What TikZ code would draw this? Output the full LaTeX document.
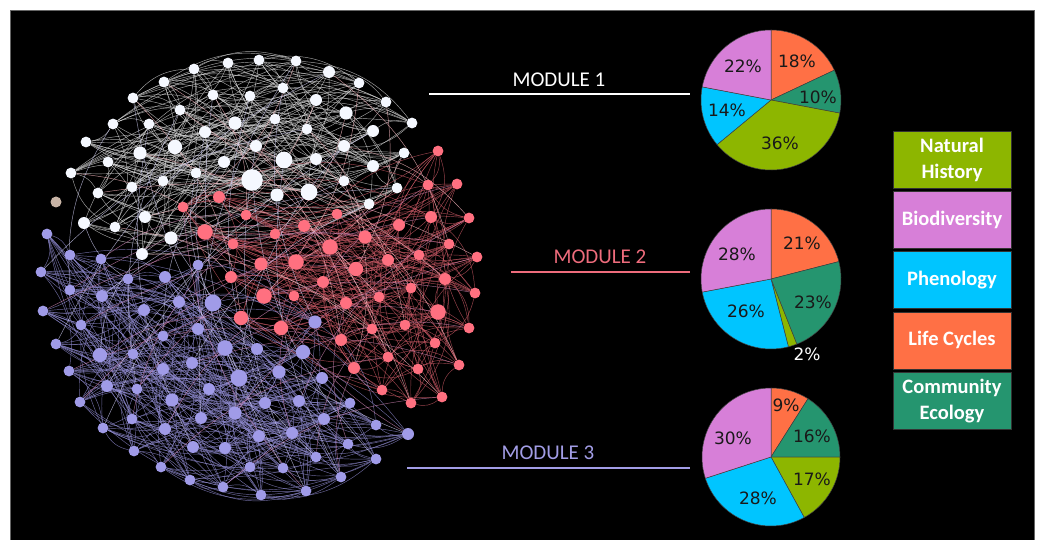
\documentclass[tikz,border=0pt]{standalone}
\usepackage{fontspec}
\setmainfont{Carlito}
\newfontfamily\piefont{DejaVu Sans}
\usetikzlibrary{positioning,backgrounds}
\definecolor{nathist}{HTML}{8DB600}
\definecolor{biodiv}{HTML}{D77FD8}
\definecolor{phenol}{HTML}{00C5FF}
\definecolor{lifecyc}{HTML}{FF7045}
\definecolor{commeco}{HTML}{25956F}
\definecolor{modred}{HTML}{EE6C7C}
\definecolor{modblue}{HTML}{A29DE6}
\definecolor{nodewhite}{HTML}{F5F8FF}
\definecolor{nodered}{HTML}{FF7080}
\definecolor{nodeblue}{HTML}{A09BE8}
\definecolor{nodetan}{HTML}{C8B4A6}
\tikzset{
  netnode/.style={circle,inner sep=0pt,minimum size=11pt},
  wnode/.style={netnode,fill=nodewhite},
  rnode/.style={netnode,fill=nodered},
  pnode/.style={netnode,fill=nodeblue},
  link/.style={line width=.45pt,opacity=.75},
  wlink/.style={link,draw=white!85!black},
  rlink/.style={link,draw=nodered!80!black},
  plink/.style={link,draw=nodeblue!90!black},
  wrlink/.style={link,draw=nodered!45!white},
  rplink/.style={link,draw=nodered!50!nodeblue},
  pwlink/.style={link,draw=nodeblue!50!white},
  modlab/.style={font=\fontsize{21}{24}\selectfont},
  modline/.style={line width=2.5pt},
  pieedge/.style={draw=black!75,line width=.5pt},
  pielab/.style={font=\piefont\fontsize{17}{20}\selectfont,text=black!90},
  legbox/.style={draw=black!80,line width=.8pt,minimum width=118pt,
    minimum height=57pt,align=center,text=white,
    font=\fontsize{20.5}{26}\selectfont\bfseries}
}
\newcommand*{\drawslice}[5]
  {\filldraw[pieedge,fill=#5] (#1) -- +(#2:#4) arc[start angle=#2,end angle=#3,radius=#4] -- cycle;}

\begin{document}
\begin{tikzpicture}[x=1pt,y=-1pt]
\useasboundingbox (0,0) rectangle (1042,540);

% Network nodes: module 1 (white)
\foreach [count=\i] \x/\y/\s in {194/69/9, 228/63/9, 259/60/9, 296/61/9,
  329/72/10, 359/83/9, 164/82/9, 213/95/9, 250/96/9, 283/88/9, 316/100/10,
  386/102/9, 133/98/9, 180/110/9, 346/113/11, 412/123/9, 113/124/9,
  149/124/9, 205/132/10, 235/123/11, 275/119/9, 307/129/9, 373/131/10,
  86/142/9, 175/147/12, 140/153/11, 256/146/10, 344/146/10, 404/153/9,
  108/162/9, 224/162/10, 284/160/14, 316/159/10, 373/166/10, 71/173/9,
  196/173/9, 252/180/18, 163/181/9, 132/187/9, 344/181/9, 397/188/9,
  98/193/9, 277/195/11, 309/192/14, 369/204/9, 84/223/10, 115/227/9,
  145/217/10, 171/238/11, 142/254/10}
  \node[wnode,minimum size=1.2*\s pt] (w\i) at (\x,\y) {};

% Network nodes: module 2 (red)
\foreach [count=\i] \x/\y/\s in {438/151/9, 428/185/9, 457/184/9,
  219/197/10, 183/207/9, 246/215/9, 337/214/9, 431/217/10, 469/218/9,
  205/232/13, 275/234/9, 304/226/10, 399/225/10, 233/244/9, 330/247/13,
  365/237/11, 449/244/9, 419/255/9, 477/257/9, 261/264/11, 296/262/13,
  356/269/12, 388/260/10, 231/277/10, 323/282/10, 445/279/10, 411/288/9,
  475/293/9, 264/296/13, 294/296/9, 346/303/10, 379/297/9, 438/312/13,
  241/318/12, 281/328/12, 372/329/9, 405/325/9, 469/328/9, 341/340/10,
  435/343/9, 388/357/9, 354/368/10, 418/369/9, 459/365/9, 382/390/9,
  411/403/9, 442/397/9}
  \node[rnode,minimum size=1.2*\s pt] (r\i) at (\x,\y) {};

% Network nodes: module 3 (blue)
\foreach [count=\i] \x/\y/\s in {47/234/9, 70/255/9, 101/259/9, 41/272/9,
  128/279/9, 165/277/10, 198/265/9, 70/290/9, 102/296/10, 43/311/9,
  144/310/10, 179/302/10, 213/303/14, 315/322/11, 81/325/9, 198/329/10,
  163/336/9, 56/344/9, 225/348/13, 257/349/10, 303/352/12, 100/355/12,
  133/354/9, 69/371/9, 163/369/10, 192/363/10, 239/378/14, 279/372/11,
  322/378/10, 107/386/10, 137/389/9, 209/389/10, 80/402/9, 172/400/11,
  265/403/10, 299/401/10, 350/403/9, 132/419/9, 201/418/10, 235/413/11,
  324/419/10, 376/425/9, 408/434/10, 103/428/9, 165/429/10, 259/436/10,
  292/433/10, 193/447/10, 225/448/10, 348/444/9, 134/451/9, 316/457/9,
  376/459/9, 161/467/9, 250/467/9, 283/468/9, 341/477/9, 190/480/9,
  223/487/9, 261/495/9, 306/491/9}
  \node[pnode,minimum size=1.2*\s pt] (p\i) at (\x,\y) {};

% Loose node
\node[netnode,fill=nodetan] (t1) at (56,202) {};

\begin{pgfonlayer}{background}
\fill[white] (0,0) rectangle (1042,540);
\filldraw[black,draw=black!60] (10,10) rectangle (1034,541);

% Links inside modules
\foreach \i in {1,...,50} \foreach \k in {1,3,7,12,20} {
  \pgfmathtruncatemacro\j{mod(\i+\k-1,50)+1}
  \pgfmathtruncatemacro\b{ifthenelse(mod(\i+\k,2)==0,24,-24)}
  \draw[wlink] (w\i) to[bend left=\b] (w\j);
}
\foreach \i in {1,...,47} \foreach \k in {1,3,7,12,20} {
  \pgfmathtruncatemacro\j{mod(\i+\k-1,47)+1}
  \pgfmathtruncatemacro\b{ifthenelse(mod(\i+\k,2)==0,26,-26)}
  \draw[rlink] (r\i) to[bend left=\b] (r\j);
}
\foreach \i in {1,...,61} \foreach \k in {1,3,7,12,20,28} {
  \pgfmathtruncatemacro\j{mod(\i+\k-1,61)+1}
  \pgfmathtruncatemacro\b{ifthenelse(mod(\i+\k,2)==0,24,-24)}
  \draw[plink] (p\i) to[bend left=\b] (p\j);
}

% Links between modules
\foreach \i in {1,...,30} {
  \pgfmathtruncatemacro\a{mod(\i*7,50)+1}
  \pgfmathtruncatemacro\c{mod(\i*5,47)+1}
  \draw[wrlink] (w\a) to[bend left=18] (r\c);
}
\foreach \i in {1,...,30} {
  \pgfmathtruncatemacro\a{mod(\i*11,47)+1}
  \pgfmathtruncatemacro\c{mod(\i*7,61)+1}
  \draw[rplink] (r\a) to[bend right=18] (p\c);
}
\foreach \i in {1,...,24} {
  \pgfmathtruncatemacro\a{mod(\i*13,61)+1}
  \pgfmathtruncatemacro\c{mod(\i*9,50)+1}
  \draw[pwlink] (p\a) to[bend left=18] (w\c);
}
\end{pgfonlayer}

% Module labels and rules
\node[modlab,text=white] (mod1) at (559,80) {MODULE 1};
\coordinate (m1a) at (429,94);
\coordinate (m1b) at (690,94);
\draw[modline,white] (m1a) -- (m1b);

\node[modlab,text=modred] (mod2) at (600,257) {MODULE 2};
\coordinate (m2a) at (511,272);
\coordinate (m2b) at (690,272);
\draw[modline,modred] (m2a) -- (m2b);

\node[modlab,text=modblue] (mod3) at (548,453) {MODULE 3};
\coordinate (m3a) at (407,468);
\coordinate (m3b) at (690,468);
\draw[modline,modblue] (m3a) -- (m3b);

% Pie charts
\coordinate (pie1) at (771,100);
\drawslice{pie1}{90}{25.2}{70pt}{lifecyc}
\drawslice{pie1}{25.2}{-10.8}{70pt}{commeco}
\drawslice{pie1}{-10.8}{-140.4}{70pt}{nathist}
\drawslice{pie1}{-140.4}{-190.8}{70pt}{phenol}
\drawslice{pie1}{-190.8}{-270}{70pt}{biodiv}
\node[pielab] (p1lc) at (797,61) {18\%};
\node[pielab] (p1ce) at (818,97) {10\%};
\node[pielab] (p1nh) at (780,143) {36\%};
\node[pielab] (p1ph) at (727,110) {14\%};
\node[pielab] (p1bd) at (743,66) {22\%};

\coordinate (pie2) at (771,279);
\drawslice{pie2}{90}{14.4}{70pt}{lifecyc}
\drawslice{pie2}{14.4}{-68.4}{70pt}{commeco}
\drawslice{pie2}{-68.4}{-75.6}{70pt}{nathist}
\drawslice{pie2}{-75.6}{-169.2}{70pt}{phenol}
\drawslice{pie2}{-169.2}{-270}{70pt}{biodiv}
\node[pielab] (p2lc) at (802,243) {21\%};
\node[pielab] (p2ce) at (813,302) {23\%};
\node[pielab] (p2ph) at (746,311) {26\%};
\node[pielab] (p2bd) at (737,254) {28\%};
\node[pielab,text=white] (p2nh) at (807,354) {2\%};

\coordinate (pie3) at (771,457);
\drawslice{pie3}{90}{57.6}{69pt}{lifecyc}
\drawslice{pie3}{57.6}{0}{69pt}{commeco}
\drawslice{pie3}{0}{-61.2}{69pt}{nathist}
\drawslice{pie3}{-61.2}{-162}{69pt}{phenol}
\drawslice{pie3}{-162}{-270}{69pt}{biodiv}
\node[pielab] (p3lc) at (786,405) {9\%};
\node[pielab] (p3ce) at (812,436) {16\%};
\node[pielab] (p3nh) at (812,479) {17\%};
\node[pielab] (p3ph) at (758,498) {28\%};
\node[pielab] (p3bd) at (733,438) {30\%};

% Legend
\node[legbox,fill=nathist] (lnh) at (952,159.5) {Natural\\History};
\node[legbox,fill=biodiv,below=2.5pt of lnh] (lbd) {Biodiversity};
\node[legbox,fill=phenol,below=2.5pt of lbd] (lph) {Phenology};
\node[legbox,fill=lifecyc,below=2.5pt of lph] (llc) {Life Cycles};
\node[legbox,fill=commeco,below=2.5pt of llc] (lce) {Community\\Ecology};
\end{tikzpicture}
\end{document}
